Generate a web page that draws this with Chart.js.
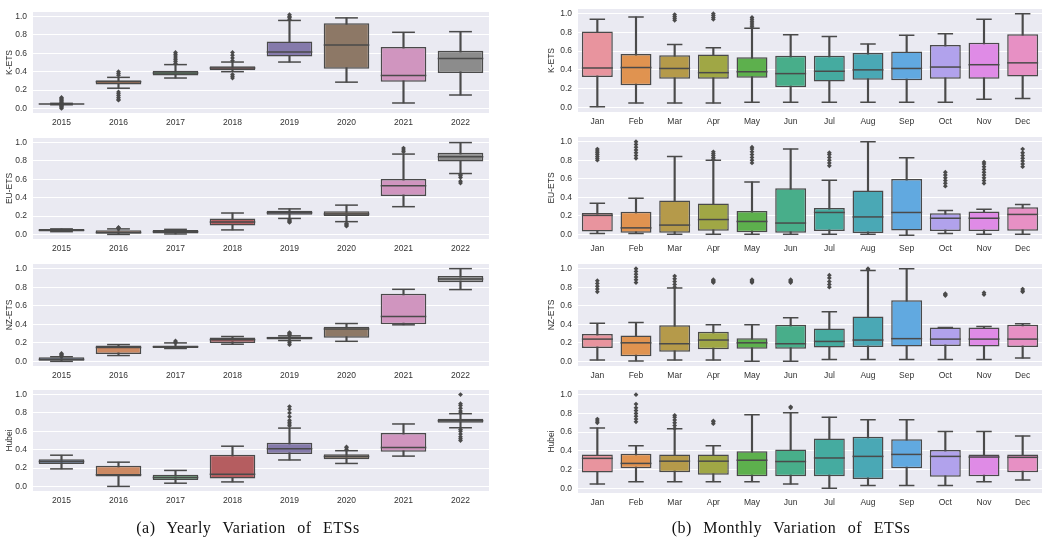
<!DOCTYPE html>
<html lang="en">
<head>
    <meta charset="UTF-8">
    <title>Yearly and Monthly Variation of ETSs</title>
    <script src="https://cdn.jsdelivr.net/npm/chart.js"></script>
    <style>
        body {
            margin: 0;
            background: #fff;
            width: 1056px;
            height: 543px;
            position: relative;
            overflow: hidden;
        }
        canvas {
            position: absolute;
        }
        .caption {
            position: absolute;
            top: 519px;
            font-family: "Liberation Serif", "DejaVu Serif", serif;
            font-size: 16px;
            word-spacing: 7px;
            letter-spacing: 0.5px;
            color: #111;
            white-space: nowrap;
            transform: translateX(-50%);
        }
    </style>
</head>
<body>

<canvas id="kYear" width="493" height="127" style="left:0;top:8px"></canvas>
<canvas id="euYear" width="493" height="127" style="left:0;top:134px"></canvas>
<canvas id="nzYear" width="493" height="128" style="left:0;top:260px"></canvas>
<canvas id="hbYear" width="493" height="127" style="left:0;top:386px"></canvas>

<canvas id="kMonth" width="516" height="129" style="left:530px;top:5px"></canvas>
<canvas id="euMonth" width="516" height="128" style="left:530px;top:133px"></canvas>
<canvas id="nzMonth" width="516" height="128" style="left:530px;top:260px"></canvas>
<canvas id="hbMonth" width="516" height="129" style="left:530px;top:386px"></canvas>

<div class="caption" style="left:248px">(a) Yearly Variation of ETSs</div>
<div class="caption" style="left:791px">(b) Monthly Variation of ETSs</div>

<script>
    const years = ['2015', '2016', '2017', '2018', '2019', '2020', '2021', '2022'];
    const months = ['Jan', 'Feb', 'Mar', 'Apr', 'May', 'Jun', 'Jul', 'Aug', 'Sep', 'Oct', 'Nov', 'Dec'];
    const yTicks = [0.0, 0.2, 0.4, 0.6, 0.8, 1.0];

    // each row: [lower whisker, q1, median, q3, upper whisker]
    const kYear = [
        [0.040, 0.045, 0.048, 0.052, 0.055],
        [0.220, 0.261, 0.289, 0.307, 0.338],
        [0.331, 0.359, 0.387, 0.410, 0.477],
        [0.400, 0.415, 0.440, 0.460, 0.505],
        [0.505, 0.564, 0.613, 0.728, 0.958],
        [0.286, 0.432, 0.690, 0.927, 0.986],
        [0.059, 0.289, 0.359, 0.669, 0.829],
        [0.146, 0.387, 0.544, 0.627, 0.836]
    ];
    const kYearOut = [
        [0.0, 0.012, 0.02, 0.03, 0.035, 0.062, 0.07, 0.08, 0.09, 0.1, 0.11, 0.12],
        [0.36, 0.38, 0.40, 0.09, 0.1, 0.12, 0.14, 0.16, 0.18],
        [0.49, 0.51, 0.53, 0.55, 0.57, 0.59, 0.61],
        [0.52, 0.55, 0.58, 0.61, 0.33, 0.35, 0.37],
        [0.97, 0.99, 1.0, 1.02],
        [], [], []
    ];

    const euYear = [
        [0.030, 0.031, 0.045, 0.059, 0.060],
        [0.000, 0.007, 0.022, 0.045, 0.060],
        [0.005, 0.010, 0.028, 0.049, 0.055],
        [0.049, 0.097, 0.135, 0.174, 0.233],
        [0.174, 0.215, 0.236, 0.257, 0.278],
        [0.139, 0.201, 0.222, 0.253, 0.319],
        [0.302, 0.417, 0.531, 0.604, 0.875],
        [0.663, 0.795, 0.847, 0.889, 1.000]
    ];
    const euYearOut = [
        [],
        [0.065, 0.07, 0.075],
        [],
        [],
        [0.13, 0.14, 0.15, 0.16],
        [0.09, 0.1, 0.11, 0.12],
        [0.9, 0.92, 0.94],
        [0.56, 0.58, 0.62, 0.64, 0.65]
    ];

    const nzYear = [
        [0.000, 0.000, 0.020, 0.045, 0.050],
        [0.063, 0.080, 0.150, 0.171, 0.181],
        [0.139, 0.145, 0.157, 0.170, 0.199],
        [0.185, 0.199, 0.233, 0.258, 0.268],
        [0.225, 0.237, 0.251, 0.265, 0.275],
        [0.216, 0.254, 0.348, 0.373, 0.408],
        [0.394, 0.401, 0.484, 0.728, 0.777],
        [0.774, 0.854, 0.888, 0.920, 1.000]
    ];
    const nzYearOut = [
        [0.055, 0.065, 0.075, 0.085],
        [],
        [0.2, 0.21, 0.22],
        [],
        [0.28, 0.29, 0.3, 0.31, 0.18, 0.2, 0.22],
        [], [], []
    ];

    const hbYear = [
        [0.191, 0.243, 0.271, 0.295, 0.340],
        [0.000, 0.108, 0.128, 0.226, 0.264],
        [0.035, 0.069, 0.097, 0.128, 0.174],
        [0.049, 0.087, 0.132, 0.344, 0.438],
        [0.288, 0.354, 0.410, 0.476, 0.635],
        [0.250, 0.295, 0.326, 0.351, 0.389],
        [0.330, 0.378, 0.424, 0.583, 0.680],
        [0.639, 0.694, 0.715, 0.736, 0.792]
    ];
    const hbYearOut = [
        [], [], [], [],
        [0.66, 0.68, 0.7, 0.72, 0.76, 0.8, 0.84, 0.87],
        [0.4, 0.42, 0.43],
        [],
        [0.8, 0.82, 0.85, 0.88, 0.9, 1.0, 0.5, 0.52, 0.54, 0.57, 0.6, 0.62]
    ];

    const kMonth = [
        [0.005, 0.325, 0.420, 0.810, 0.940],
        [0.045, 0.235, 0.425, 0.570, 0.965],
        [0.045, 0.305, 0.415, 0.555, 0.670],
        [0.045, 0.305, 0.370, 0.565, 0.635],
        [0.055, 0.315, 0.380, 0.535, 0.845],
        [0.055, 0.215, 0.360, 0.550, 0.775],
        [0.055, 0.275, 0.385, 0.550, 0.755],
        [0.055, 0.295, 0.400, 0.580, 0.675],
        [0.055, 0.290, 0.415, 0.595, 0.770],
        [0.055, 0.305, 0.430, 0.665, 0.785],
        [0.085, 0.305, 0.455, 0.690, 0.940],
        [0.095, 0.330, 0.475, 0.780, 1.000]
    ];
    const kMonthOut = [
        [], [],
        [0.93, 0.95, 0.97, 0.99],
        [0.94, 0.96, 0.98, 1.0],
        [0.86, 0.88, 0.9, 0.92, 0.94, 0.96],
        [], [], [], [], [], [], []
    ];

    const euMonth = [
        [0.010, 0.030, 0.205, 0.230, 0.335],
        [0.010, 0.017, 0.070, 0.245, 0.390],
        [0.000, 0.017, 0.100, 0.365, 0.840],
        [0.000, 0.038, 0.160, 0.333, 0.800],
        [0.000, 0.024, 0.139, 0.253, 0.566],
        [0.000, 0.017, 0.122, 0.497, 0.920],
        [0.000, 0.035, 0.236, 0.285, 0.583],
        [0.000, 0.014, 0.188, 0.472, 1.000],
        [-0.010, 0.042, 0.236, 0.597, 0.826],
        [0.010, 0.035, 0.174, 0.229, 0.257],
        [0.000, 0.035, 0.174, 0.246, 0.270],
        [0.000, 0.038, 0.215, 0.292, 0.323]
    ];
    const euMonthOut = [
        [0.8, 0.82, 0.84, 0.86, 0.88, 0.9, 0.92],
        [0.82, 0.85, 0.88, 0.91, 0.94, 0.97, 1.0],
        [],
        [0.81, 0.83, 0.85, 0.87, 0.89],
        [0.77, 0.8, 0.83, 0.86, 0.89, 0.92, 0.94],
        [],
        [0.74, 0.77, 0.8, 0.83, 0.86, 0.88],
        [], [],
        [0.52, 0.55, 0.58, 0.61, 0.64, 0.67],
        [0.55, 0.58, 0.61, 0.64, 0.67, 0.7, 0.73, 0.76, 0.78],
        [0.73, 0.76, 0.79, 0.82, 0.85, 0.88, 0.92]
    ];

    const nzMonth = [
        [0.015, 0.145, 0.240, 0.295, 0.410],
        [0.005, 0.055, 0.200, 0.280, 0.420],
        [0.015, 0.105, 0.190, 0.390, 0.790],
        [0.015, 0.130, 0.230, 0.320, 0.395],
        [0.000, 0.135, 0.200, 0.250, 0.395],
        [0.000, 0.135, 0.190, 0.395, 0.470],
        [0.020, 0.150, 0.215, 0.355, 0.535],
        [0.020, 0.155, 0.230, 0.485, 0.980],
        [0.020, 0.160, 0.245, 0.660, 1.000],
        [0.020, 0.165, 0.240, 0.365, 0.365],
        [0.020, 0.160, 0.240, 0.365, 0.375],
        [0.035, 0.155, 0.240, 0.395, 0.405]
    ];
    const nzMonthOut = [
        [0.75, 0.78, 0.81, 0.84, 0.87],
        [0.85, 0.88, 0.91, 0.94, 0.97, 1.0],
        [0.8, 0.83, 0.86, 0.89, 0.92],
        [0.85, 0.86, 0.87, 0.88],
        [0.85, 0.86, 0.87, 0.88],
        [0.85, 0.86, 0.87, 0.88],
        [0.8, 0.83, 0.86, 0.9, 0.93],
        [0.99, 1.0],
        [],
        [0.71, 0.72, 0.73],
        [0.72, 0.74],
        [0.75, 0.76, 0.78]
    ];

    const hbMonth = [
        [0.045, 0.169, 0.320, 0.362, 0.645],
        [0.070, 0.214, 0.266, 0.369, 0.455],
        [0.070, 0.172, 0.290, 0.362, 0.635],
        [0.070, 0.145, 0.290, 0.362, 0.455],
        [0.070, 0.128, 0.300, 0.397, 0.786],
        [0.045, 0.128, 0.286, 0.414, 0.807],
        [0.000, 0.128, 0.324, 0.531, 0.760],
        [0.030, 0.100, 0.341, 0.552, 0.731],
        [0.030, 0.214, 0.362, 0.524, 0.731],
        [0.030, 0.124, 0.341, 0.410, 0.607],
        [0.070, 0.128, 0.334, 0.362, 0.607],
        [0.090, 0.172, 0.331, 0.362, 0.559]
    ];
    const hbMonthOut = [
        [0.7, 0.72, 0.74],
        [0.71, 0.74, 0.77, 0.8, 0.83, 0.86, 0.9, 1.0],
        [0.64, 0.67, 0.7, 0.73, 0.76, 0.78],
        [0.69, 0.71, 0.72],
        [],
        [0.86, 0.87],
        [], [], [], [], [], []
    ];

    const yearColors = ['#58759F', '#CC8963', '#5F9E6E', '#B55D60', '#857AAB', '#8D7866', '#D095BF', '#8C8C8C'];
    const monthColors = ['#E8949E', '#E09350', '#B59A4A', '#A0A745', '#5DB04D', '#48AE8A',
                         '#45ABA0', '#4AA8B5', '#61A9E0', '#B1A2EC', '#DF8BE6', '#E790C4'];

    const EDGE = '#4a4a4a';
    const TEXT = '#333333';
    const FONT = { family: '"Liberation Sans", Arial, sans-serif', size: 8.5 };

    const plotBackground = {
        id: 'plotBackground',
        beforeDraw(chart) {
            const { ctx, chartArea: a } = chart;
            ctx.save();
            ctx.fillStyle = '#EAEAF2';
            ctx.fillRect(a.left, a.top, a.right - a.left, a.bottom - a.top);
            ctx.restore();
        }
    };

    function boxChart(id, cats, stats, outliers, colors, title, axisWidth, titlePad) {
        const n = cats.length;
        const halfBox = c => c.chart.scales.x.width / n * 0.4;
        const outPts = [];
        outliers.forEach((vals, i) => vals.forEach(v => outPts.push({ x: cats[i], y: v })));

        const tickLine = (data, radius, order) => ({
            type: 'line',
            data: data,
            showLine: false,
            pointStyle: 'line',
            pointRadius: radius,
            pointBorderColor: EDGE,
            pointBorderWidth: 1.5,
            order: order
        });

        new Chart(document.getElementById(id), {
            data: {
                labels: cats,
                datasets: [
                    {
                        type: 'bar',
                        data: stats.map(s => [s[0], s[4]]),
                        backgroundColor: EDGE,
                        barThickness: 1.5,
                        grouped: false,
                        order: 5
                    },
                    {
                        type: 'bar',
                        data: stats.map(s => [s[1], s[3]]),
                        backgroundColor: colors,
                        borderColor: EDGE,
                        borderWidth: 1.5,
                        borderSkipped: false,
                        categoryPercentage: 0.8,
                        barPercentage: 1,
                        grouped: false,
                        order: 4
                    },
                    tickLine(stats.map(s => s[4]), c => halfBox(c) / 2, 3),
                    tickLine(stats.map(s => s[0]), c => halfBox(c) / 2, 3),
                    tickLine(stats.map(s => s[2]), halfBox, 2),
                    {
                        type: 'line',
                        data: outPts,
                        showLine: false,
                        pointStyle: 'rectRot',
                        pointRadius: 2.4,
                        pointBackgroundColor: EDGE,
                        pointBorderWidth: 0,
                        order: 1
                    }
                ]
            },
            options: {
                responsive: false,
                animation: false,
                events: [],
                layout: { padding: { left: 0, right: 1, top: 0, bottom: 0 } },
                plugins: { legend: { display: false }, tooltip: { enabled: false } },
                scales: {
                    x: {
                        type: 'category',
                        offset: true,
                        grid: { display: false, drawTicks: false },
                        border: { display: false },
                        ticks: { color: TEXT, font: FONT, padding: 5, maxRotation: 0, autoSkip: false },
                        afterFit: s => { s.height = 22; s.paddingLeft = 0; s.paddingRight = 0; }
                    },
                    y: {
                        min: -0.05,
                        max: 1.05,
                        grid: { color: '#ffffff', lineWidth: 1, drawTicks: false },
                        border: { display: false },
                        afterBuildTicks: s => { s.ticks = yTicks.map(v => ({ value: v })); },
                        ticks: { color: TEXT, font: FONT, padding: 6, callback: v => Number(v).toFixed(1) },
                        title: { display: true, text: title, color: TEXT, font: FONT, padding: { top: titlePad, bottom: 0 } },
                        afterFit: s => { s.width = axisWidth; s.paddingTop = 0; s.paddingBottom = 0; }
                    }
                }
            },
            plugins: [plotBackground]
        });
    }

    boxChart('kYear', years, kYear, kYearOut, yearColors, 'K-ETS', 33, 5);
    boxChart('euYear', years, euYear, euYearOut, yearColors, 'EU-ETS', 33, 5);
    boxChart('nzYear', years, nzYear, nzYearOut, yearColors, 'NZ-ETS', 33, 5);
    boxChart('hbYear', years, hbYear, hbYearOut, yearColors, 'Hubei', 33, 5);

    boxChart('kMonth', months, kMonth, kMonthOut, monthColors, 'K-ETS', 48, 17);
    boxChart('euMonth', months, euMonth, euMonthOut, monthColors, 'EU-ETS', 48, 17);
    boxChart('nzMonth', months, nzMonth, nzMonthOut, monthColors, 'NZ-ETS', 48, 17);
    boxChart('hbMonth', months, hbMonth, hbMonthOut, monthColors, 'Hubei', 48, 17);
</script>

</body>
</html>
